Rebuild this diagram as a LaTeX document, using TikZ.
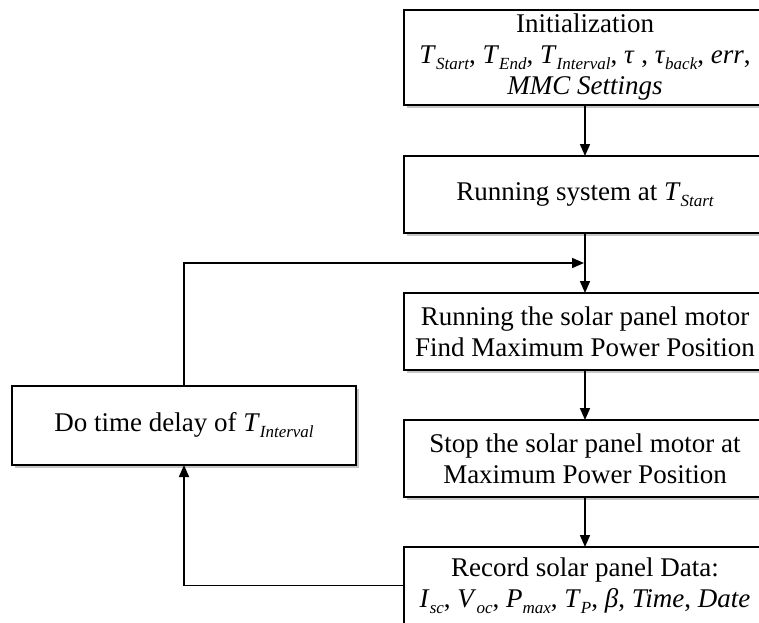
\documentclass[tikz,border=0pt]{standalone}
\usepackage{fontspec}
\setmainfont{Liberation Serif}
\usetikzlibrary{arrows.meta,shadows}
\newcommand{\lo}[1]{\raisebox{-0.22em}{\fontsize{17}{17}\selectfont\itshape #1}}
\newcommand{\vv}[2]{\textit{#1}\lo{#2}}
\begin{document}
\begin{tikzpicture}[x=1pt,y=-1pt,
  box/.style={draw, line width=1.6pt, fill=white, minimum width=362pt, minimum height=77pt,
    inner sep=0pt, outer sep=0pt, align=center, font=\fontsize{27}{31}\selectfont,
    drop shadow={shadow xshift=2.5pt, shadow yshift=-2.5pt, opacity=0.45, fill=gray}},
  arr/.style={line width=1.6pt, -{Triangle[length=12pt,width=10pt]}}]
\useasboundingbox (0,0) rectangle (759,622);
\clip (0,0) rectangle (759,622);
\node[box, minimum height=95pt] (init) at (585,57.5)
  {Initialization\\
   \vv{T}{Start}, \vv{T}{End}, \vv{T}{Interval}, \textit{τ} , \vv{τ}{back}, \textit{err},\\
   \textit{MMC Settings}};
\node[box] (run) at (585,194.5) {Running system at \vv{T}{Start}};
\node[box] (motor) at (585,331.5) {Running the solar panel motor\\Find Maximum Power Position};
\node[box] (stop) at (585,458.5) {Stop the solar panel motor at\\Maximum Power Position};
\node[box] (rec) at (585,585.5) {Record solar panel Data:\\
  \vv{I}{sc}, \vv{V}{oc}, \vv{P}{max}, \vv{T}{P}, \textit{β}, \textit{Time}, \textit{Date}};
\node[box, minimum width=344pt, minimum height=79pt] (delay) at (184,425.5)
  {Do time delay of \vv{T}{Interval}};
\coordinate (join) at (584,263);
\draw[arr] (init) -- (run);
\draw[arr] (run) -- (motor);
\draw[arr] (motor) -- (stop);
\draw[arr] (stop) -- (rec);
\draw[arr] (rec.west) -| (delay.south);
\draw[arr] (delay.north) |- (join);
\end{tikzpicture}
\end{document}
